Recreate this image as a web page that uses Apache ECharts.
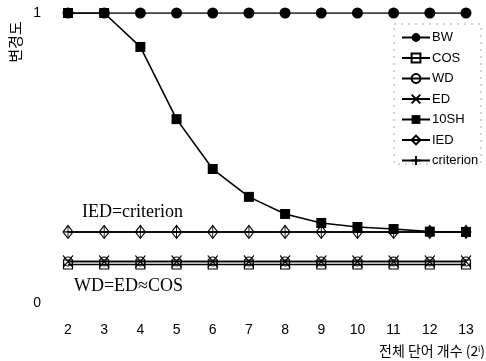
<!DOCTYPE html>
<html>
<head>
<meta charset="utf-8">
<script src="https://cdn.jsdelivr.net/npm/echarts@6/dist/echarts.min.js"></script>
<style>
  html, body { margin: 0; padding: 0; background: #fff; }
  #chart { width: 486px; height: 361px; }
</style>
</head>
<body>
<div id="chart"></div>
<script>
// Number of words on the x axis (as powers of two)
var categories = ['2', '3', '4', '5', '6', '7', '8', '9', '10', '11', '12', '13'];

// Change degree per measure
var bwValues        = [1, 1, 1, 1, 1, 1, 1, 1, 1, 1, 1, 1];
var cosValues       = [0.133, 0.133, 0.133, 0.133, 0.133, 0.133, 0.133, 0.133, 0.133, 0.133, 0.133, 0.133];
var wdValues        = [0.143, 0.143, 0.143, 0.143, 0.143, 0.143, 0.143, 0.143, 0.143, 0.143, 0.143, 0.143];
var edValues        = [0.143, 0.143, 0.143, 0.143, 0.143, 0.143, 0.143, 0.143, 0.143, 0.143, 0.143, 0.143];
var sh10Values      = [1, 1, 0.883, 0.634, 0.462, 0.366, 0.307, 0.276, 0.262, 0.255, 0.246, 0.245];
var iedValues       = [0.245, 0.245, 0.245, 0.245, 0.245, 0.245, 0.245, 0.245, 0.245, 0.245, 0.245, 0.245];
var criterionValues = [0.245, 0.245, 0.245, 0.245, 0.245, 0.245, 0.245, 0.245, 0.245, 0.245, 0.245, 0.245];

var yTicks = [0, 1];
var legendNames = ['BW', 'COS', 'WD', 'ED', '10SH', 'IED', 'criterion'];

var INK = '#000';
var CLEAR = 'rgba(0,0,0,0)';
var SANS = '"Liberation Sans", Arial, sans-serif';
var SERIF = '"Liberation Serif", "Times New Roman", serif';

function lineSeries(name, data, symbol, size, filled, z) {
  return {
    name: name,
    type: 'line',
    data: data,
    symbol: symbol,
    symbolSize: size,
    showAllSymbol: true,
    z: z,
    animation: false,
    lineStyle: { color: INK, width: 1.6 },
    itemStyle: {
      color: filled ? INK : CLEAR,
      borderColor: INK,
      borderWidth: filled ? 0 : 1.1
    }
  };
}

var chart = echarts.init(document.getElementById('chart'), null, { renderer: 'canvas' });

chart.setOption({
  backgroundColor: '#fff',
  animation: false,
  grid: { left: 68, right: 20, top: 13, bottom: 58, containLabel: false },
  xAxis: {
    type: 'category',
    data: categories,
    boundaryGap: false,
    axisLine: { show: false },
    axisTick: { show: false },
    splitLine: { show: false },
    axisLabel: { color: INK, fontFamily: SANS, fontSize: 14, margin: 20 }
  },
  yAxis: {
    type: 'value',
    min: yTicks[0],
    max: yTicks[1],
    interval: 1,
    axisLine: { show: false },
    axisTick: { show: false },
    splitLine: { show: false },
    axisLabel: { color: INK, fontFamily: SANS, fontSize: 14, margin: 27 }
  },
  legend: {
    data: legendNames,
    orient: 'vertical',
    left: 396,
    top: 26,
    itemWidth: 28,
    itemHeight: 11,
    itemGap: 7.5,
    textStyle: { color: INK, fontFamily: SANS, fontSize: 13, padding: [0, 0, 0, -3] }
  },
  series: [
    lineSeries('criterion', criterionValues, 'path://M5,0L5,10M0,5L10,5', [8, 12], false, 2),
    lineSeries('IED', iedValues, 'diamond', [10, 13], false, 3),
    lineSeries('COS', cosValues, 'rect', 9, false, 4),
    lineSeries('WD', wdValues, 'circle', 9, false, 4),
    lineSeries('ED', edValues, 'path://M0,0L10,10M10,0L0,10', [10, 12], false, 5),
    lineSeries('BW', bwValues, 'circle', 11, true, 6),
    lineSeries('10SH', sh10Values, 'rect', 10, true, 7)
  ],
  graphic: [
    {
      type: 'rect',
      shape: { x: 394, y: 24, width: 87, height: 140 },
      style: { fill: 'none', stroke: '#aaa', lineWidth: 1, lineDash: [2, 5] },
      silent: true
    },
    {
      type: 'text',
      x: 15, y: 42,
      rotation: Math.PI / 2,
      style: {
        text: '변경도',
        fill: INK,
        font: '15px "Noto Sans CJK KR", sans-serif',
        align: 'center',
        verticalAlign: 'middle'
      }
    },
    {
      type: 'text',
      x: 485, y: 351,
      style: {
        text: '전체 단어 개수 (2ⁱ)',
        fill: INK,
        font: '14px "Noto Sans CJK KR", sans-serif',
        align: 'right',
        verticalAlign: 'middle'
      }
    },
    {
      type: 'text',
      x: 183, y: 212,
      style: {
        text: 'IED=criterion',
        fill: INK,
        font: '18px ' + SERIF,
        align: 'right',
        verticalAlign: 'middle'
      }
    },
    {
      type: 'text',
      x: 183, y: 286,
      style: {
        text: 'WD=ED≈COS',
        fill: INK,
        font: '18px ' + SERIF,
        align: 'right',
        verticalAlign: 'middle'
      }
    }
  ]
});
</script>
</body>
</html>
